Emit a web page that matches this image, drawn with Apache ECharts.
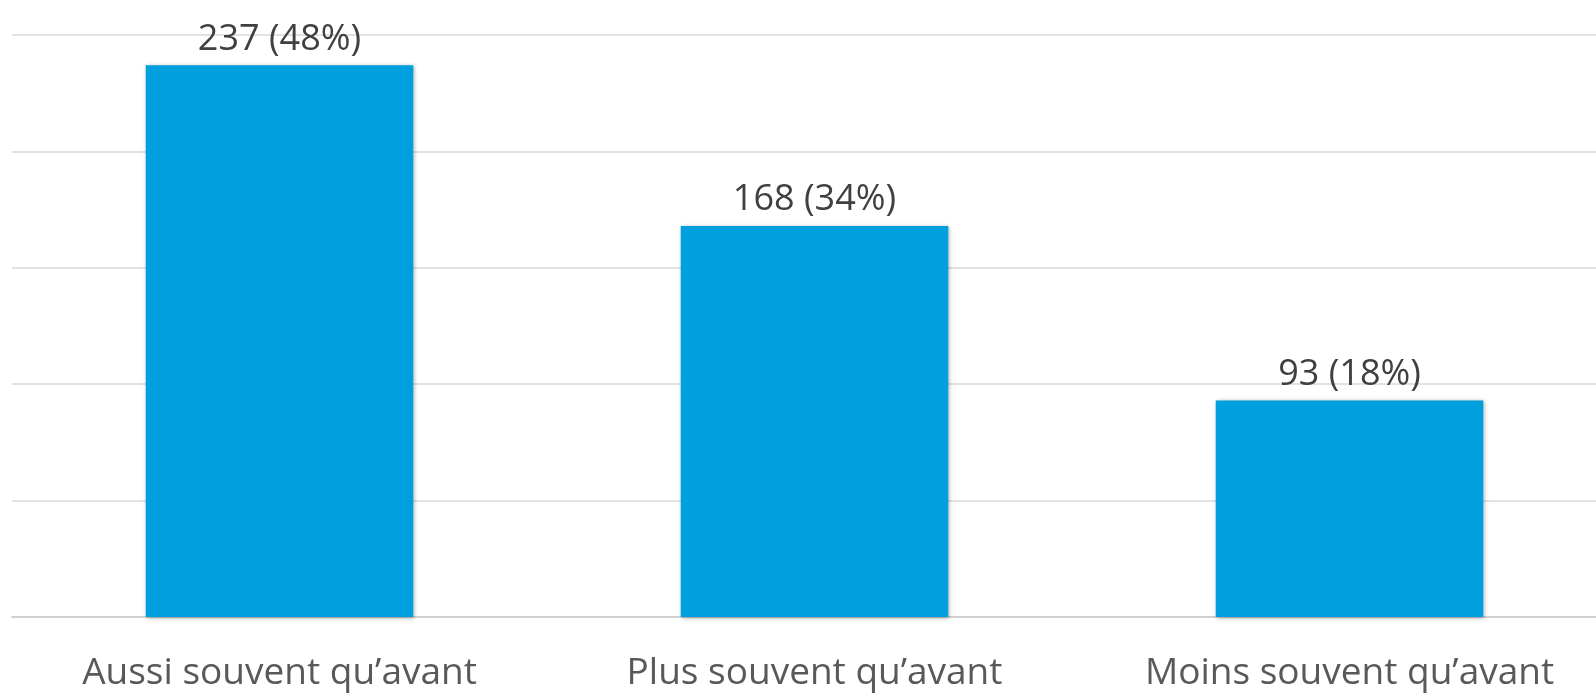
<!DOCTYPE html>
<html><head><meta charset="utf-8">
<script src="https://cdn.jsdelivr.net/npm/echarts@6/dist/echarts.min.js"></script>
<style>html,body{margin:0;padding:0;background:#fff}#c{width:1596px;height:694px}</style>
</head><body><div id="c"></div>
<script>
var categories = ["Aussi souvent qu\u2019avant", "Plus souvent qu\u2019avant", "Moins souvent qu\u2019avant"];
var counts = [237, 168, 93];
var percents = [48, 34, 18];
var yMax = 250, yInterval = 50;

var chart = echarts.init(document.getElementById('c'));
chart.setOption({
  animation: false,
  grid: {left: 12, width: 1605, top: 35, bottom: 77, containLabel: false, outerBoundsMode: 'none'},
  xAxis: {
    type: 'category', data: categories,
    axisLine: {show: true, lineStyle: {color: '#d0d0d0', width: 2}},
    axisTick: {show: false},
    axisLabel: {color: '#595959', fontSize: 37, fontFamily: 'Open Sans', margin: 38}
  },
  yAxis: {
    type: 'value', min: 0, max: yMax, interval: yInterval,
    axisLabel: {show: false}, axisLine: {show: false}, axisTick: {show: false},
    splitLine: {lineStyle: {color: '#d9d9d9', width: 1.5}}
  },
  series: [{
    type: 'bar', data: counts, barCategoryGap: '50%',
    itemStyle: {color: '#00A0DF', shadowColor: 'rgba(0,0,0,0.35)', shadowBlur: 4, shadowOffsetX: 1, shadowOffsetY: 1},
    label: {
      show: true, position: 'top', distance: 8,
      color: '#404040', fontSize: 36, fontFamily: 'Open Sans',
      formatter: function (p) { return counts[p.dataIndex] + ' (' + percents[p.dataIndex] + '%)'; }
    }
  }]
});
</script></body></html>
